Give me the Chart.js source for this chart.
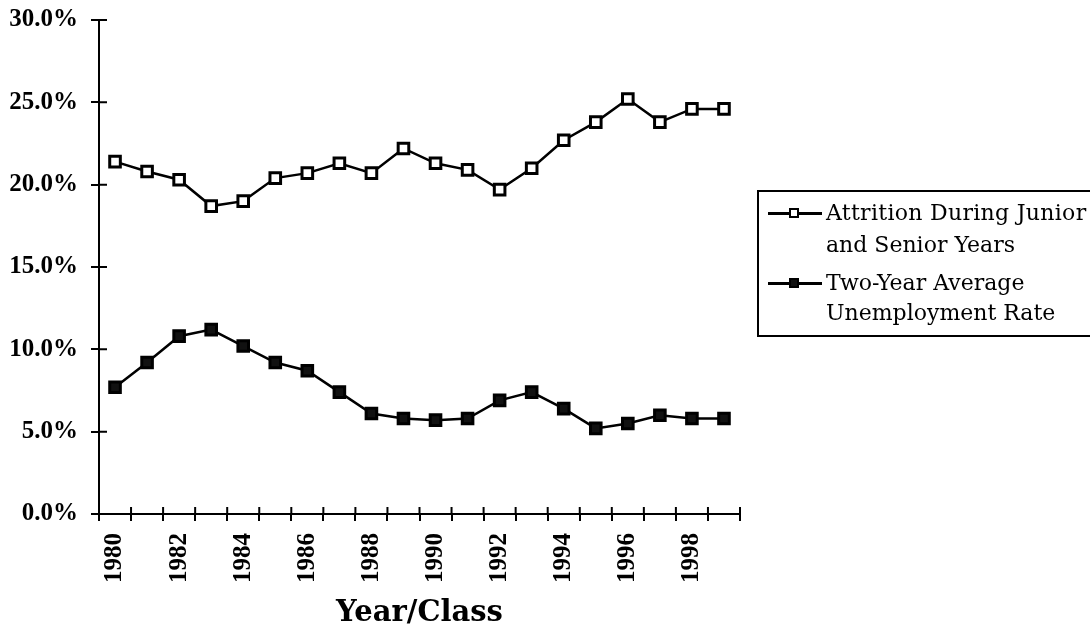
<!DOCTYPE html>
<html>
<head>
<meta charset="utf-8">
<script src="https://cdn.jsdelivr.net/npm/chart.js"></script>
<style>
  body { margin: 0; background: #fff; }
  #wrap { position: relative; width: 1090px; height: 628px; overflow: hidden; }
  #legend {
    position: absolute; left: 757px; top: 190px; width: 345px; height: 147px;
    border: 2px solid #000; box-sizing: border-box;
    font-family: "DejaVu Serif", serif; font-size: 22px; color: #000;
  }
  .row { position: absolute; left: 0; white-space: nowrap; line-height: 30px; }
  .mark { position: absolute; left: 9px; width: 54px; height: 3px; background: #000; }
  .mark span { position: absolute; left: 21px; top: -4px; width: 6px; height: 6px; border: 2.5px solid #000; }
  .txt { position: absolute; left: 67px; }
</style>
</head>
<body>
<div id="wrap">
  <canvas id="chart" width="1090" height="628"></canvas>
  <div id="legend">
    <div class="mark" style="top:20px"><span style="background:#fff"></span></div>
    <div class="row txt" style="top:6px; letter-spacing:0.3px">Attrition During Junior</div>
    <div class="row txt" style="top:38px">and Senior Years</div>
    <div class="mark" style="top:90px"><span style="background:#111"></span></div>
    <div class="row txt" style="top:76px">Two-Year Average</div>
    <div class="row txt" style="top:106px">Unemployment Rate</div>
  </div>
</div>
<script>
const years = ['1980','1981','1982','1983','1984','1985','1986','1987','1988','1989',
               '1990','1991','1992','1993','1994','1995','1996','1997','1998','1999'];
const attrition = [21.4, 20.8, 20.3, 18.7, 19.0, 20.4, 20.7, 21.3, 20.7, 22.2,
                   21.3, 20.9, 19.7, 21.0, 22.7, 23.8, 25.2, 23.8, 24.6, 24.6];
const unemployment = [7.7, 9.2, 10.8, 11.2, 10.2, 9.2, 8.7, 7.4, 6.1, 5.8,
                      5.7, 5.8, 6.9, 7.4, 6.4, 5.2, 5.5, 6.0, 5.8, 5.8];
const yTicks = [0, 5, 10, 15, 20, 25, 30];

const serif = '"DejaVu Serif", serif';
const tickFont = { family: '"Liberation Serif", serif', size: 25, weight: 'bold' };

// tick marks in the original cross the axis, so draw the inner half by hand
const crossTicks = {
  id: 'crossTicks',
  afterDraw(chart) {
    const ctx = chart.ctx;
    const x = chart.scales.x, y = chart.scales.y;
    ctx.save();
    ctx.strokeStyle = '#000';
    ctx.lineWidth = 2;
    ctx.beginPath();
    for (let i = 0; i <= years.length; i++) {
      const px = x.getPixelForValue(i - 0.5);
      ctx.moveTo(px, y.bottom);
      ctx.lineTo(px, y.bottom - 7);
    }
    yTicks.forEach(v => {
      const py = y.getPixelForValue(v);
      ctx.moveTo(x.left, py);
      ctx.lineTo(x.left + 8, py);
    });
    ctx.stroke();
    ctx.restore();
  }
};

new Chart(document.getElementById('chart'), {
  type: 'line',
  data: {
    labels: years,
    datasets: [{
      label: 'Attrition During Junior and Senior Years',
      data: attrition,
      borderColor: '#000',
      borderWidth: 2.5,
      pointStyle: 'rect',
      pointRadius: 7.5,
      pointBorderWidth: 3,
      pointBorderColor: '#000',
      pointBackgroundColor: '#fff',
      tension: 0
    }, {
      label: 'Two-Year Average Unemployment Rate',
      data: unemployment,
      borderColor: '#000',
      borderWidth: 2.5,
      pointStyle: 'rect',
      pointRadius: 7.5,
      pointBorderWidth: 3,
      pointBorderColor: '#000',
      pointBackgroundColor: '#111',
      tension: 0
    }]
  },
  options: {
    responsive: false,
    animation: false,
    layout: { padding: { left: 0, right: 350, top: 20, bottom: 0 } },
    plugins: { legend: { display: false }, tooltip: { enabled: false } },
    scales: {
      x: {
        offset: true,
        grid: { offset: true, drawOnChartArea: false, color: '#000', lineWidth: 2, tickLength: 7 },
        border: { color: '#000', width: 2 },
        ticks: {
          autoSkip: false, minRotation: 90, maxRotation: 90, padding: 12,
          color: '#000', font: tickFont,
          callback: function (v, i) { return i % 2 === 0 ? years[i] : ''; }
        },
        title: {
          display: true, text: 'Year/Class', color: '#000',
          font: { family: serif, size: 29, weight: 'bold', lineHeight: 1 },
          padding: { top: 0, bottom: 0 }
        },
        afterFit(s) { s.height = 114; s.paddingLeft = 0; s.paddingRight = 0; }
      },
      y: {
        min: 0, max: 30,
        afterBuildTicks(s) { s.ticks = yTicks.map(v => ({ value: v })); },
        grid: { drawOnChartArea: false, color: '#000', lineWidth: 2, tickLength: 8 },
        border: { color: '#000', width: 2 },
        ticks: {
          padding: 13, color: '#000', font: tickFont,
          callback: v => v.toFixed(1) + '%'
        },
        afterFit(s) { s.width = 99; s.paddingTop = 0; s.paddingBottom = 0; }
      }
    }
  },
  plugins: [crossTicks]
});
</script>
</body>
</html>
